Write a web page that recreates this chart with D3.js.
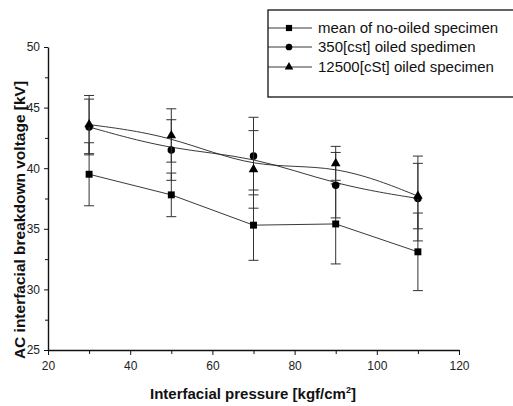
<!DOCTYPE html>
<html>
<head>
<meta charset="utf-8">
<script src="https://cdn.jsdelivr.net/npm/d3@7"></script>
<style>
	body { margin: 0; background: #fff; }
	svg { display: block; font-family: "Liberation Sans", Arial, sans-serif; }
	.axis path, .axis line { stroke: #111; }
	.axis text { font-size: 12px; fill: #222; font-family: "Liberation Sans", Arial, sans-serif; }
</style>
</head>
<body>
<div id="chart"></div>
<script>

// data
var pressure = [30, 50, 70, 90, 110];

var noOiled = [39.5, 37.8, 35.3, 35.4, 33.1],
	noOiledErr = [2.6, 1.8, 2.9, 3.3, 3.2];

var oiled350 = [43.4, 41.5, 41.0, 38.6, 37.5],
	oiled350Err = [2.3, 2.5, 3.2, 2.7, 3.5];

var oiled12500 = [43.6, 42.7, 39.9, 40.4, 37.7],
	oiled12500Err = [2.4, 2.2, 3.2, 1.4, 2.7];

var seriesNames = ["mean of no-oiled specimen", "350[cst] oiled spedimen", "12500[cSt] oiled specimen"];
var xTicks = [20, 40, 60, 80, 100, 120],
	yTicks = [25, 30, 35, 40, 45, 50];

// margins
var margin = {top: 47, right: 54, bottom: 56, left: 48},
	width = 513,
	height = 406,
	innerw = width - margin.left - margin.right,
	innerh = height - margin.top - margin.bottom;

var svg = d3.select("#chart").append("svg")
	.attr("width", width)
	.attr("height", height);

var g = svg.append("g")
	.attr("transform", "translate(" + margin.left + "," + margin.top + ")");

// scales
var x = d3.scaleLinear().domain([20, 120]).range([0, innerw]),
	y = d3.scaleLinear().domain([25, 50]).range([innerh, 0]);

// minor ticks
g.append("g")
	.attr("class", "axis")
	.attr("transform", "translate(0," + innerh + ")")
	.call(d3.axisBottom(x).tickValues(d3.range(30, 120, 20)).tickSize(4).tickFormat(""))
	.call(function(s){ s.select(".domain").remove(); });

g.append("g")
	.attr("class", "axis")
	.call(d3.axisLeft(y).tickValues(d3.range(27.5, 50, 5)).tickSize(3).tickFormat(""))
	.call(function(s){ s.select(".domain").remove(); });

// x axis
g.append("g")
	.attr("class", "axis")
	.attr("transform", "translate(0," + innerh + ")")
	.call(d3.axisBottom(x).tickValues(xTicks).tickSize(5).tickSizeOuter(0).tickPadding(6))
	.call(function(s){ s.select(".domain").attr("stroke-width", 1.4); });

// y axis
g.append("g")
	.attr("class", "axis")
	.call(d3.axisLeft(y).tickValues(yTicks).tickSize(4).tickSizeOuter(0).tickPadding(4))
	.call(function(s){ s.select(".domain").attr("stroke-width", 1.4); });

// axis titles
svg.append("text")
	.attr("x", 253)
	.attr("y", 399)
	.attr("text-anchor", "middle")
	.style("font-weight", "bold")
	.style("font-size", "15px")
	.style("fill", "#111")
	.html("Interfacial pressure [kgf/cm<tspan dy='-6' font-size='9px'>2</tspan><tspan dy='6'>]</tspan>");

svg.append("text")
	.attr("transform", "translate(25,220) rotate(-90)")
	.attr("text-anchor", "middle")
	.style("font-weight", "bold")
	.style("font-size", "15.5px")
	.style("fill", "#111")
	.text("AC interfacial breakdown voltage [kV]");

// series table
var series = [
	{name: seriesNames[0], vals: noOiled, err: noOiledErr, shape: d3.symbolSquare, size: 48, curve: d3.curveLinear},
	{name: seriesNames[1], vals: oiled350, err: oiled350Err, shape: d3.symbolCircle, size: 44, curve: d3.curveBasis},
	{name: seriesNames[2], vals: oiled12500, err: oiled12500Err, shape: d3.symbolTriangle, size: 40, curve: d3.curveBasis}
];

series.forEach(function(s){

	var pts = pressure.map(function(p, i){

		return {x: p, y: s.vals[i], e: s.err[i]};
	});

	// error bars
	var eb = g.append("g")
		.attr("stroke", "#333")
		.attr("stroke-width", 1);

	eb.selectAll(".stem")
		.data(pts)
		.enter()
		.append("line")
		.attr("x1", function(d){ return x(d.x); })
		.attr("x2", function(d){ return x(d.x); })
		.attr("y1", function(d){ return y(d.y - d.e); })
		.attr("y2", function(d){ return y(d.y + d.e); });

	[-1, 1].forEach(function(sign){

		eb.selectAll(".cap" + sign)
			.data(pts)
			.enter()
			.append("line")
			.attr("x1", function(d){ return x(d.x) - 5; })
			.attr("x2", function(d){ return x(d.x) + 5; })
			.attr("y1", function(d){ return y(d.y + sign * d.e); })
			.attr("y2", function(d){ return y(d.y + sign * d.e); });
	});

	// line
	g.append("path")
		.datum(pts)
		.attr("fill", "none")
		.attr("stroke", "#222")
		.attr("stroke-width", 0.9)
		.attr("d", d3.line()
			.curve(s.curve)
			.x(function(d){ return x(d.x); })
			.y(function(d){ return y(d.y); }));

	// markers
	g.selectAll(null)
		.data(pts)
		.enter()
		.append("path")
		.attr("transform", function(d){

			return "translate(" + x(d.x) + "," + y(d.y) + ")";
		})
		.attr("d", d3.symbol().type(s.shape).size(s.size))
		.attr("fill", "#000");
});

// legend
var legend = svg.append("g");

legend.append("rect")
	.attr("x", 268)
	.attr("y", 10)
	.attr("width", 260)
	.attr("height", 87)
	.attr("fill", "none")
	.attr("stroke", "#111")
	.attr("stroke-width", 1.3);

var rows = [28, 47, 67];

series.forEach(function(s, i){

	legend.append("line")
		.attr("x1", 268)
		.attr("x2", 312)
		.attr("y1", rows[i])
		.attr("y2", rows[i])
		.attr("stroke", "#222")
		.attr("stroke-width", 0.9);

	legend.append("path")
		.attr("transform", "translate(289," + rows[i] + ")")
		.attr("d", d3.symbol().type(s.shape).size(s.size * 0.8))
		.attr("fill", "#000");

	legend.append("text")
		.attr("x", 318)
		.attr("y", rows[i] + 5)
		.style("font-size", "15px")
		.style("fill", "#111")
		.text(s.name);
});

</script>
</body>
</html>
